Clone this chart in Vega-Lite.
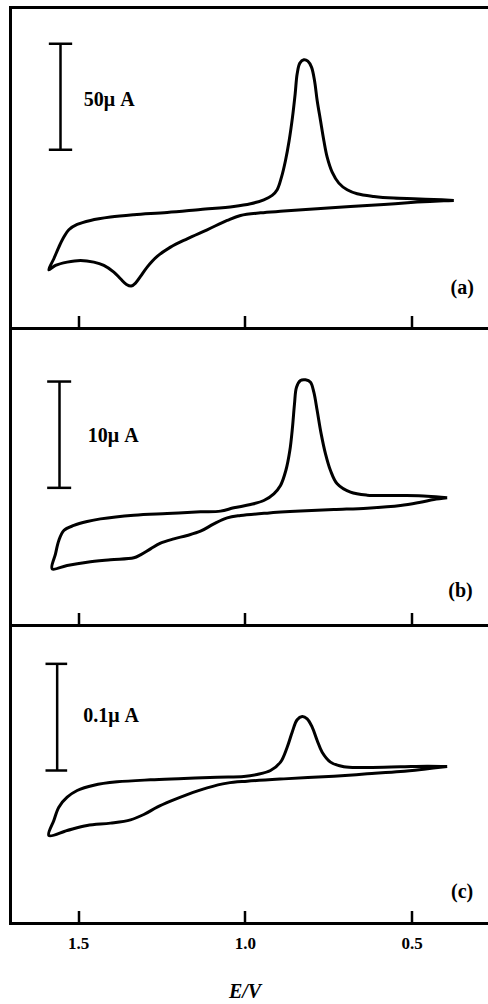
{
  "$schema": "https://vega.github.io/schema/vega-lite/v6.json",
  "padding": {"left": 8.5, "top": 5.5, "right": 0, "bottom": 0},
  "background": "white",
  "config": {
    "view": {"stroke": "black", "strokeWidth": 3},
    "font": "Liberation Serif"
  },
  "spacing": 0,
  "bounds": "flush",
  "resolve": {"scale": {"y": "independent", "x": "independent"}},
  "datasets": {
    "a": [
      {"i":1,"E":0.373,"I":0},{"i":2,"E":0.433,"I":0.47},{"i":3,"E":0.493,"I":0.79},{"i":4,"E":0.553,"I":1.10},{"i":5,"E":0.613,"I":1.89},{"i":6,"E":0.663,"I":3.14},{"i":7,"E":0.693,"I":5.03},{"i":8,"E":0.718,"I":8.17},{"i":9,"E":0.738,"I":13.36},{"i":10,"E":0.753,"I":20.44},{"i":11,"E":0.763,"I":28.30},{"i":12,"E":0.773,"I":37.73},{"i":13,"E":0.783,"I":47.16},{"i":14,"E":0.791,"I":56.59},{"i":15,"E":0.800,"I":62.88},{"i":16,"E":0.811,"I":65.71},{"i":17,"E":0.823,"I":66.34},{"i":18,"E":0.835,"I":64.77},{"i":19,"E":0.843,"I":59.74},{"i":20,"E":0.849,"I":50.30},{"i":21,"E":0.857,"I":39.30},{"i":22,"E":0.867,"I":28.30},{"i":23,"E":0.878,"I":18.86},{"i":24,"E":0.890,"I":11.00},{"i":25,"E":0.903,"I":5.03},{"i":26,"E":0.918,"I":2.36},{"i":27,"E":0.943,"I":0.31},{"i":28,"E":0.983,"I":-1.57},{"i":29,"E":1.033,"I":-2.83},{"i":30,"E":1.133,"I":-4.24},{"i":31,"E":1.233,"I":-5.66},{"i":32,"E":1.333,"I":-6.76},{"i":33,"E":1.403,"I":-7.86},{"i":34,"E":1.463,"I":-9.43},{"i":35,"E":1.503,"I":-11.32},{"i":36,"E":1.528,"I":-13.83},{"i":37,"E":1.543,"I":-17.29},{"i":38,"E":1.558,"I":-22.01},{"i":39,"E":1.573,"I":-27.51},{"i":40,"E":1.588,"I":-32.70},{"i":41,"E":1.568,"I":-30.65},{"i":42,"E":1.533,"I":-29.08},{"i":43,"E":1.493,"I":-28.30},{"i":44,"E":1.453,"I":-29.08},{"i":45,"E":1.423,"I":-30.65},{"i":46,"E":1.393,"I":-33.80},{"i":47,"E":1.373,"I":-36.94},{"i":48,"E":1.355,"I":-39.61},{"i":49,"E":1.341,"I":-40.40},{"i":50,"E":1.328,"I":-38.99},{"i":51,"E":1.313,"I":-35.84},{"i":52,"E":1.293,"I":-31.44},{"i":53,"E":1.263,"I":-26.41},{"i":54,"E":1.223,"I":-22.01},{"i":55,"E":1.173,"I":-18.08},{"i":56,"E":1.113,"I":-13.83},{"i":57,"E":1.053,"I":-9.43},{"i":58,"E":1.013,"I":-7.07},{"i":59,"E":0.953,"I":-5.82},{"i":60,"E":0.883,"I":-5.03},{"i":61,"E":0.783,"I":-3.93},{"i":62,"E":0.683,"I":-2.83},{"i":63,"E":0.583,"I":-1.89},{"i":64,"E":0.483,"I":-0.79},{"i":65,"E":0.403,"I":-0.16},{"i":66,"E":0.373,"I":0}
    ],
    "b": [
      {"i":1,"E":0.393,"I":0},{"i":2,"E":0.453,"I":0.16},{"i":3,"E":0.533,"I":0.22},{"i":4,"E":0.633,"I":0.25},{"i":5,"E":0.683,"I":0.53},{"i":6,"E":0.723,"I":1.32},{"i":7,"E":0.743,"I":2.57},{"i":8,"E":0.758,"I":4.14},{"i":9,"E":0.771,"I":6.02},{"i":10,"E":0.783,"I":8.21},{"i":11,"E":0.793,"I":9.94},{"i":12,"E":0.803,"I":10.88},{"i":13,"E":0.818,"I":11.10},{"i":14,"E":0.833,"I":11.04},{"i":15,"E":0.845,"I":10.41},{"i":16,"E":0.851,"I":8.84},{"i":17,"E":0.857,"I":6.65},{"i":18,"E":0.865,"I":4.45},{"i":19,"E":0.877,"I":2.57},{"i":20,"E":0.893,"I":1.16},{"i":21,"E":0.913,"I":0.38},{"i":22,"E":0.943,"I":-0.25},{"i":23,"E":0.983,"I":-0.63},{"i":24,"E":1.033,"I":-0.94},{"i":25,"E":1.073,"I":-1.25},{"i":26,"E":1.133,"I":-1.32},{"i":27,"E":1.233,"I":-1.47},{"i":28,"E":1.333,"I":-1.63},{"i":29,"E":1.433,"I":-1.98},{"i":30,"E":1.473,"I":-2.23},{"i":31,"E":1.513,"I":-2.60},{"i":32,"E":1.543,"I":-3.07},{"i":33,"E":1.558,"I":-4.01},{"i":34,"E":1.568,"I":-5.27},{"i":35,"E":1.578,"I":-6.68},{"i":36,"E":1.533,"I":-6.36},{"i":37,"E":1.473,"I":-6.05},{"i":38,"E":1.403,"I":-5.83},{"i":39,"E":1.333,"I":-5.64},{"i":40,"E":1.313,"I":-5.36},{"i":41,"E":1.283,"I":-4.80},{"i":42,"E":1.253,"I":-4.26},{"i":43,"E":1.213,"I":-3.86},{"i":44,"E":1.173,"I":-3.54},{"i":45,"E":1.133,"I":-3.14},{"i":46,"E":1.093,"I":-2.45},{"i":47,"E":1.053,"I":-1.88},{"i":48,"E":1.013,"I":-1.66},{"i":49,"E":0.933,"I":-1.44},{"i":50,"E":0.833,"I":-1.25},{"i":51,"E":0.733,"I":-1.10},{"i":52,"E":0.633,"I":-0.97},{"i":53,"E":0.533,"I":-0.72},{"i":54,"E":0.473,"I":-0.41},{"i":55,"E":0.433,"I":-0.16},{"i":56,"E":0.393,"I":0}
    ],
    "c": [
      {"i":1,"E":0.393,"I":0},{"i":2,"E":0.453,"I":0.0003},{"i":3,"E":0.533,"I":-0.0003},{"i":4,"E":0.633,"I":-0.0009},{"i":5,"E":0.703,"I":-0.0003},{"i":6,"E":0.743,"I":0.0041},{"i":7,"E":0.768,"I":0.0134},{"i":8,"E":0.783,"I":0.0244},{"i":9,"E":0.798,"I":0.0369},{"i":10,"E":0.813,"I":0.0447},{"i":11,"E":0.828,"I":0.0469},{"i":12,"E":0.843,"I":0.0438},{"i":13,"E":0.858,"I":0.0322},{"i":14,"E":0.873,"I":0.0181},{"i":15,"E":0.893,"I":0.0041},{"i":16,"E":0.923,"I":-0.0038},{"i":17,"E":0.963,"I":-0.0075},{"i":18,"E":1.003,"I":-0.0094},{"i":19,"E":1.083,"I":-0.0100},{"i":20,"E":1.183,"I":-0.0113},{"i":21,"E":1.283,"I":-0.0125},{"i":22,"E":1.383,"I":-0.0144},{"i":23,"E":1.453,"I":-0.0175},{"i":24,"E":1.503,"I":-0.0225},{"i":25,"E":1.533,"I":-0.0288},{"i":26,"E":1.558,"I":-0.0381},{"i":27,"E":1.573,"I":-0.0506},{"i":28,"E":1.588,"I":-0.0647},{"i":29,"E":1.533,"I":-0.0600},{"i":30,"E":1.473,"I":-0.0553},{"i":31,"E":1.403,"I":-0.0531},{"i":32,"E":1.343,"I":-0.0500},{"i":33,"E":1.303,"I":-0.0450},{"i":34,"E":1.263,"I":-0.0381},{"i":35,"E":1.223,"I":-0.0325},{"i":36,"E":1.173,"I":-0.0263},{"i":37,"E":1.113,"I":-0.0200},{"i":38,"E":1.053,"I":-0.0156},{"i":39,"E":0.993,"I":-0.0138},{"i":40,"E":0.883,"I":-0.0116},{"i":41,"E":0.733,"I":-0.0091},{"i":42,"E":0.633,"I":-0.0069},{"i":43,"E":0.533,"I":-0.0047},{"i":44,"E":0.463,"I":-0.0025},{"i":45,"E":0.393,"I":0}
    ]
  },
  "vconcat": [
    {
      "width": 490, "height": 321,
      "encoding": {
        "x": {"field": "E", "type": "quantitative", "scale": {"domain": [0.233, 1.703], "reverse": true, "nice": false, "zero": false},
              "axis": {"values": [1.5, 1.0, 0.5], "labels": false, "title": null, "domain": false, "grid": false, "ticks": true, "tickSize": -13, "tickWidth": 2.5, "tickColor": "black"}},
        "y": {"field": "I", "type": "quantitative", "scale": {"domain": [-60.4, 91.0], "nice": false, "zero": false}, "axis": null}
      },
      "layer": [
        {"data": {"name": "a"}, "mark": {"type": "line", "interpolate": "catmull-rom", "color": "black", "strokeWidth": 3},
         "encoding": {"order": {"field": "i", "type": "quantitative"}}},
        {"data": {"values": [{"E": 1.553, "I": 23.9, "I2": 73.9}]}, "mark": {"type": "rule", "color": "black", "strokeWidth": 2.5},
         "encoding": {"y2": {"field": "I2"}}},
        {"data": {"values": [{"E": 1.588, "E2": 1.518, "I": 23.9}, {"E": 1.588, "E2": 1.518, "I": 73.9}]}, "mark": {"type": "rule", "color": "black", "strokeWidth": 2.5},
         "encoding": {"x2": {"field": "E2"}}},
        {"data": {"values": [{"E": 1.483, "I": 47.2, "t": "50μ A"}]}, "mark": {"type": "text", "align": "left", "baseline": "middle", "fontSize": 20, "fontWeight": "bold", "font": "Liberation Serif", "color": "black"},
         "encoding": {"text": {"field": "t"}}},
        {"data": {"values": [{"E": 0.348, "I": -41.3, "t": "(a)"}]}, "mark": {"type": "text", "align": "center", "baseline": "middle", "fontSize": 20, "fontWeight": "bold", "font": "Liberation Serif", "color": "black"},
         "encoding": {"text": {"field": "t"}}}
      ]
    },
    {
      "width": 490, "height": 297,
      "encoding": {
        "x": {"field": "E", "type": "quantitative", "scale": {"domain": [0.233, 1.703], "reverse": true, "nice": false, "zero": false},
              "axis": {"values": [1.5, 1.0, 0.5], "labels": false, "title": null, "domain": false, "grid": false, "ticks": true, "tickSize": -13, "tickWidth": 2.5, "tickColor": "black"}},
        "y": {"field": "I", "type": "quantitative", "scale": {"domain": [-12.01, 15.93], "nice": false, "zero": false}, "axis": null}
      },
      "layer": [
        {"data": {"name": "b"}, "mark": {"type": "line", "interpolate": "catmull-rom", "color": "black", "strokeWidth": 3},
         "encoding": {"order": {"field": "i", "type": "quantitative"}}},
        {"data": {"values": [{"E": 1.556, "I": 0.94, "I2": 10.94}]}, "mark": {"type": "rule", "color": "black", "strokeWidth": 2.5},
         "encoding": {"y2": {"field": "I2"}}},
        {"data": {"values": [{"E": 1.593, "E2": 1.521, "I": 0.94}, {"E": 1.593, "E2": 1.521, "I": 10.94}]}, "mark": {"type": "rule", "color": "black", "strokeWidth": 2.5},
         "encoding": {"x2": {"field": "E2"}}},
        {"data": {"values": [{"E": 1.471, "I": 5.86, "t": "10μ A"}]}, "mark": {"type": "text", "align": "left", "baseline": "middle", "fontSize": 20, "fontWeight": "bold", "font": "Liberation Serif", "color": "black"},
         "encoding": {"text": {"field": "t"}}},
        {"data": {"values": [{"E": 0.353, "I": -8.72, "t": "(b)"}]}, "mark": {"type": "text", "align": "center", "baseline": "middle", "fontSize": 20, "fontWeight": "bold", "font": "Liberation Serif", "color": "black"},
         "encoding": {"text": {"field": "t"}}}
      ]
    },
    {
      "width": 490, "height": 298,
      "encoding": {
        "x": {"field": "E", "type": "quantitative", "scale": {"domain": [0.233, 1.703], "reverse": true, "nice": false, "zero": false},
              "axis": {"values": [1.5, 1.0, 0.5], "format": ".1f", "labels": true, "labelFont": "Liberation Serif", "labelFontSize": 17, "labelFontWeight": "bold", "labelColor": "black", "labelPadding": 25, "labelFlush": false,
                       "title": "E/V", "titleFont": "Liberation Serif", "titleFontSize": 20, "titleFontStyle": "italic", "titleFontWeight": "bold", "titleColor": "black", "titlePadding": 30, "titleX": 234,
                       "domain": false, "grid": false, "ticks": true, "tickSize": -13, "tickWidth": 2.5, "tickColor": "black"}},
        "y": {"field": "I", "type": "quantitative", "scale": {"domain": [-0.1472, 0.1322], "nice": false, "zero": false}, "axis": null}
      },
      "layer": [
        {"data": {"name": "c"}, "mark": {"type": "line", "interpolate": "catmull-rom", "color": "black", "strokeWidth": 3},
         "encoding": {"order": {"field": "i", "type": "quantitative"}}},
        {"data": {"values": [{"E": 1.563, "I": -0.00375, "I2": 0.09625}]}, "mark": {"type": "rule", "color": "black", "strokeWidth": 2.5},
         "encoding": {"y2": {"field": "I2"}}},
        {"data": {"values": [{"E": 1.598, "E2": 1.533, "I": -0.00375}, {"E": 1.598, "E2": 1.533, "I": 0.09625}]}, "mark": {"type": "rule", "color": "black", "strokeWidth": 2.5},
         "encoding": {"x2": {"field": "E2"}}},
        {"data": {"values": [{"E": 1.485, "I": 0.0478, "t": "0.1μ A"}]}, "mark": {"type": "text", "align": "left", "baseline": "middle", "fontSize": 20, "fontWeight": "bold", "font": "Liberation Serif", "color": "black"},
         "encoding": {"text": {"field": "t"}}},
        {"data": {"values": [{"E": 0.348, "I": -0.1178, "t": "(c)"}]}, "mark": {"type": "text", "align": "center", "baseline": "middle", "fontSize": 20, "fontWeight": "bold", "font": "Liberation Serif", "color": "black"},
         "encoding": {"text": {"field": "t"}}}
      ]
    }
  ]
}
